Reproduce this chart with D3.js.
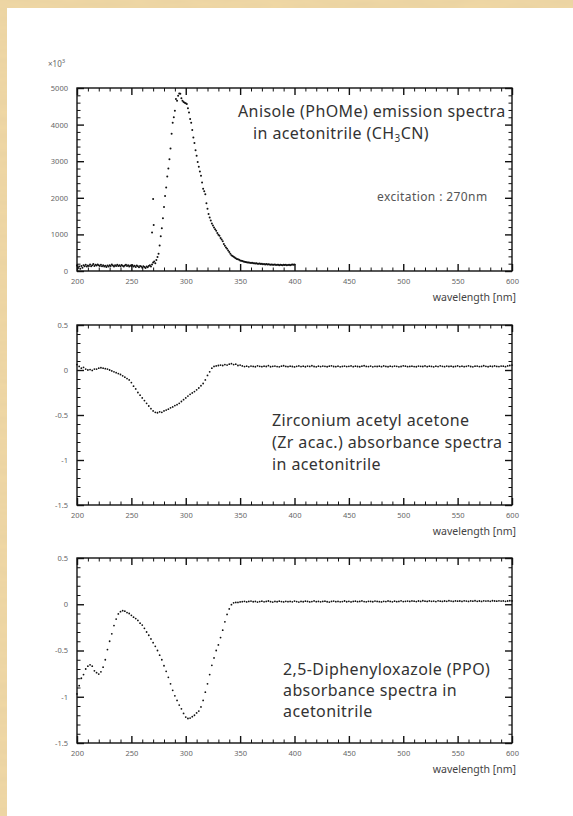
<!DOCTYPE html>
<html lang="en">
<head>
<meta charset="utf-8">
<title>Spectra</title>
<script src="https://d3js.org/d3.v7.min.js"></script>
<style>
  body { margin: 0; background: #fff; }
  svg text { font-family: 'Noto Sans', sans-serif; }
</style>
</head>
<body>
<script>
// anisole emission, 200..400 nm, 1 nm steps (counts / 1000 on axis = x10^3)
const emCount = [
  150, 80, 120, 60, 140, 90, 160, 130, 170, 120,
  150, 140, 180, 130, 160, 190, 140, 170, 150, 180,
  160, 140, 170, 130, 155, 120, 145, 110, 150, 125,
  160, 140, 175, 150, 120, 160, 135, 170, 140, 155,
  130, 165, 145, 120, 150, 170, 140, 160, 125, 150,
  135, 160, 120, 145, 110, 150, 130, 100, 140, 120,
  90, 130, 110, 80, 120, 100, 140, 160, 120, 180,
  230, 260, 210, 300, 380, 470, 700, 950, 1170, 1440,
  1750, 2050, 2280, 2580, 2800, 3050, 3350, 3750, 4050, 4200,
  4380, 4700, 4650, 4790, 4850, 4840, 4720, 4650, 4620, 4600,
  4580, 4560, 4450, 4330, 4150, 4050, 3850, 3650, 3500, 3300,
  3150, 2980, 2850, 2720, 2600, 2420, 2250, 2180, 2100, 1850,
  1700, 1560, 1460, 1380, 1300, 1240, 1190, 1140, 1100, 1040,
  990, 960, 900, 860, 810, 740, 690, 640, 610, 560,
  520, 470, 430, 410, 390, 370, 350, 330, 320, 305,
  290, 280, 270, 260, 255, 245, 240, 235, 230, 228,
  220, 225, 210, 215, 205, 210, 200, 195, 205, 190,
  195, 185, 190, 180, 188, 175, 182, 178, 170, 180,
  172, 168, 175, 165, 172, 168, 160, 170, 165, 158,
  168, 162, 170, 158, 165, 172, 160, 168, 175, 170,
  178
];
// stray points left of the rising edge
const emStrayWave = [269, 270, 270.5];
const emStrayCount = [1050, 1970, 1260];

// Zr acac absorbance, 200..600 nm, 2 nm steps
const zrAbs = [
  0.06, 0.04, 0.02, 0.03, 0.01, 0.00, 0.005, -0.005, 0.01, 0.01,
  0.02, 0.025, 0.02, 0.015, 0.01, 0.00, -0.01, -0.02, -0.03, -0.04,
  -0.05, -0.065, -0.08, -0.095, -0.11, -0.14, -0.18, -0.21, -0.25, -0.28,
  -0.31, -0.34, -0.37, -0.40, -0.43, -0.455, -0.47, -0.475, -0.465, -0.47,
  -0.455, -0.445, -0.435, -0.42, -0.41, -0.395, -0.385, -0.37, -0.35, -0.33,
  -0.31, -0.29, -0.27, -0.255, -0.24, -0.22, -0.20, -0.175, -0.15, -0.11,
  -0.06, -0.02, 0.02, 0.04, 0.045, 0.05, 0.055, 0.05, 0.06, 0.055,
  0.065, 0.07, 0.06, 0.065, 0.05, 0.055,
  0.045, 0.038, 0.042, 0.035, 0.044, 0.040, 0.036, 0.046, 0.041, 0.037,
  0.043, 0.039, 0.048, 0.036, 0.041, 0.044, 0.038, 0.035, 0.042, 0.047,
  0.040, 0.037, 0.043, 0.039, 0.034, 0.041, 0.045, 0.038, 0.042, 0.036,
  0.044, 0.040, 0.047, 0.039, 0.035, 0.042, 0.038, 0.044, 0.041, 0.036,
  0.043, 0.046, 0.039, 0.037, 0.042, 0.035, 0.040, 0.044, 0.038, 0.041,
  0.045, 0.037, 0.043, 0.039, 0.036, 0.042, 0.047, 0.040, 0.038, 0.044,
  0.035, 0.041, 0.039, 0.043, 0.037, 0.045, 0.040, 0.036, 0.042, 0.038,
  0.044, 0.041, 0.035, 0.039, 0.046, 0.042, 0.037, 0.040, 0.043, 0.038,
  0.036, 0.044, 0.041, 0.039, 0.045, 0.037, 0.042, 0.040, 0.035, 0.043,
  0.038, 0.046, 0.041, 0.037, 0.044, 0.039, 0.042, 0.036, 0.040, 0.045,
  0.038, 0.043, 0.037, 0.041, 0.046, 0.039, 0.035, 0.042, 0.044, 0.038,
  0.040, 0.047, 0.041, 0.036, 0.043, 0.039, 0.045, 0.040, 0.038, 0.044,
  0.042, 0.037, 0.045, 0.050, 0.055
];

// PPO absorbance, 200..600 nm, 2 nm steps
const ppoAbs = [
  -0.97, -0.88, -0.80, -0.76, -0.70, -0.67, -0.655, -0.67, -0.72, -0.74,
  -0.755, -0.73, -0.68, -0.60, -0.49, -0.40, -0.32, -0.23, -0.16, -0.105,
  -0.08, -0.07, -0.075, -0.09, -0.10, -0.12, -0.14, -0.155, -0.175, -0.205,
  -0.225, -0.26, -0.30, -0.335, -0.375, -0.415, -0.455, -0.50, -0.55, -0.60,
  -0.665, -0.725, -0.79, -0.86, -0.93, -0.99, -1.04, -1.09, -1.13, -1.18,
  -1.22, -1.235, -1.23, -1.215, -1.20, -1.175, -1.155, -1.11, -1.04, -0.95,
  -0.86, -0.76, -0.66, -0.58, -0.50, -0.44, -0.36, -0.28, -0.19, -0.11,
  -0.05, -0.005, 0.015, 0.02, 0.02, 0.025,
  0.028, 0.032, 0.025, 0.030, 0.034, 0.027, 0.031, 0.024, 0.029, 0.033,
  0.026, 0.030, 0.035, 0.028, 0.023, 0.031, 0.027, 0.033, 0.029, 0.025,
  0.032, 0.028, 0.030, 0.026, 0.034, 0.029, 0.024, 0.031, 0.027, 0.033,
  0.030, 0.025, 0.029, 0.036, 0.028, 0.031, 0.026, 0.030, 0.033, 0.027,
  0.024, 0.030, 0.034, 0.028, 0.031, 0.026, 0.029, 0.035, 0.027, 0.032,
  0.025, 0.030, 0.033, 0.028, 0.031, 0.036, 0.029, 0.026, 0.032, 0.030,
  0.027, 0.034, 0.031, 0.028, 0.025, 0.032, 0.029, 0.035, 0.030, 0.026,
  0.033, 0.028, 0.031, 0.037, 0.029, 0.032, 0.034, 0.030, 0.036, 0.033,
  0.029, 0.035, 0.031, 0.038, 0.033, 0.030, 0.036, 0.032, 0.034, 0.029,
  0.037, 0.033, 0.031, 0.035, 0.032, 0.038, 0.034, 0.030, 0.036, 0.033,
  0.035, 0.031, 0.037, 0.034, 0.030, 0.036, 0.033, 0.038, 0.032, 0.035,
  0.031, 0.037, 0.034, 0.036, 0.032, 0.038, 0.035, 0.033, 0.037, 0.034,
  0.036, 0.032, 0.035, 0.038, 0.036
];

const xMajorTicks = [200, 250, 300, 350, 400, 450, 500, 550, 600];
const emYTicks = [0, 1000, 2000, 3000, 4000, 5000];
const absYTicks = [-1.5, -1, -0.5, 0, 0.5];

const w = 573;
const h = 816;

const svg = d3.select('body')
              .append('svg')
              .attr('width', w)
              .attr('height', h);

// parchment edge
const defs = svg.append('defs');
const paper = defs.append('filter').attr('id', 'paper').attr('x', 0).attr('y', 0).attr('width', 1).attr('height', 1);
paper.append('feTurbulence').attr('type', 'fractalNoise').attr('baseFrequency', '0.02 0.12')
     .attr('numOctaves', 3).attr('seed', 7);
paper.append('feColorMatrix').attr('type', 'matrix')
     .attr('values', '0 0 0 0 0.78  0 0 0 0 0.62  0 0 0 0 0.36  0.7 0 0 0 -0.15');
svg.append('rect').attr('width', w).attr('height', h).attr('fill', '#efd7a4');
svg.append('rect').attr('width', w).attr('height', h).attr('filter', 'url(#paper)');
svg.append('rect').attr('x', 7).attr('y', 8).attr('width', w - 7).attr('height', h - 8).attr('fill', '#fff');

const left = 77, right = 512;
const x = d3.scaleLinear().domain([200, 600]).range([left, right]);
const xMinorTicks = d3.range(200, 601, 10).filter(v => v % 50 !== 0);

const fmtAbs = d => (d < 0 ? '-' : '') + Math.abs(d);

function drawPanel(p) {
    const y = d3.scaleLinear().domain(p.yDomain).range([p.bottom, p.top]);
    const g = svg.append('g');

    const styleAxis = sel => {
        sel.select('.domain').remove();
        sel.attr('font-family', null).attr('font-size', null);
        sel.selectAll('line').attr('stroke', '#111');
        sel.selectAll('text').attr('font-size', 7.5).attr('fill', '#666');
    };

    // major + minor ticks on all four sides, pointing in
    g.append('g').attr('transform', `translate(0,${p.bottom})`)
     .call(d3.axisBottom(x).tickValues(xMajorTicks).tickSize(-7).tickPadding(8).tickFormat(d3.format('d')))
     .call(styleAxis).selectAll('line').attr('stroke-width', 1.4);
    g.append('g').attr('transform', `translate(0,${p.bottom})`)
     .call(d3.axisBottom(x).tickValues(xMinorTicks).tickSize(-3.5).tickFormat(''))
     .call(styleAxis);
    g.append('g').attr('transform', `translate(0,${p.top})`)
     .call(d3.axisTop(x).tickValues(xMajorTicks).tickSize(-7).tickFormat(''))
     .call(styleAxis).selectAll('line').attr('stroke-width', 1.4);
    g.append('g').attr('transform', `translate(0,${p.top})`)
     .call(d3.axisTop(x).tickValues(xMinorTicks).tickSize(-3.5).tickFormat(''))
     .call(styleAxis);

    g.append('g').attr('transform', `translate(${left},0)`)
     .call(d3.axisLeft(y).tickValues(p.yTicks).tickSize(-7).tickPadding(9).tickFormat(p.fmt))
     .call(styleAxis).selectAll('line').attr('stroke-width', 1.4);
    g.append('g').attr('transform', `translate(${left},0)`)
     .call(d3.axisLeft(y).tickValues(p.yMinor).tickSize(-3.5).tickFormat(''))
     .call(styleAxis);
    g.append('g').attr('transform', `translate(${right},0)`)
     .call(d3.axisRight(y).tickValues(p.yTicks).tickSize(-7).tickFormat(''))
     .call(styleAxis).selectAll('line').attr('stroke-width', 1.4);
    g.append('g').attr('transform', `translate(${right},0)`)
     .call(d3.axisRight(y).tickValues(p.yMinor).tickSize(-3.5).tickFormat(''))
     .call(styleAxis);

    g.append('rect')
     .attr('x', left).attr('y', p.top)
     .attr('width', right - left).attr('height', p.bottom - p.top)
     .attr('fill', 'none').attr('stroke', '#111').attr('stroke-width', 1.4);

    g.selectAll('circle.pt')
     .data(p.points)
     .join('circle')
     .attr('class', 'pt')
     .attr('cx', d => x(d[0]))
     .attr('cy', d => y(d[1]))
     .attr('r', p.r)
     .attr('fill', '#111');

    g.append('text')
     .text('wavelength [nm]')
     .attr('x', 516)
     .attr('y', p.bottom + 30)
     .attr('text-anchor', 'end')
     .attr('font-size', 10.5)
     .attr('fill', '#444');

    return g;
}

function addTitle(x0, lines, size) {
    const t = svg.append('text')
                 .attr('font-size', size)
                 .attr('letter-spacing', 0.4)
                 .attr('fill', '#333');
    lines.forEach(([txt, y0]) => t.append('tspan').attr('x', x0).attr('y', y0).text(txt));
    return t;
}

// panel 1: emission
const emPoints = emCount.map((c, i) => [200 + i, c])
    .concat(emStrayWave.map((wv, i) => [wv, emStrayCount[i]]));
drawPanel({
    top: 88, bottom: 271,
    yDomain: [0, 5000],
    yTicks: emYTicks,
    yMinor: d3.range(0, 5001, 200).filter(v => v % 1000 !== 0),
    fmt: d3.format('d'),
    points: emPoints,
    r: 1
});

svg.append('text')
   .attr('x', 48).attr('y', 67)
   .attr('font-size', 8).attr('fill', '#666')
   .text('×10')
   .append('tspan').attr('dy', -4).attr('font-size', 6).text('3');

addTitle(238, [['Anisole (PhOMe) emission spectra', 117]], 16);
const t1 = svg.append('text').attr('font-size', 16).attr('letter-spacing', 0.4).attr('fill', '#333');
t1.append('tspan').attr('x', 253).attr('y', 139).text('in acetonitrile (CH');
t1.append('tspan').attr('dy', 3).attr('font-size', 10).text('3');
t1.append('tspan').attr('dy', -3).text('CN)');

svg.append('text')
   .attr('x', 377).attr('y', 201)
   .attr('font-size', 12).attr('letter-spacing', 0.4).attr('fill', '#555')
   .text('excitation : 270nm');

// panel 2: Zr acac
const absMinor = d3.range(-15, 6).filter(v => v % 5 !== 0).map(v => v / 10);
drawPanel({
    top: 325, bottom: 505,
    yDomain: [-1.5, 0.5],
    yTicks: absYTicks,
    yMinor: absMinor,
    fmt: fmtAbs,
    points: zrAbs.map((a, i) => [200 + 2 * i, a]),
    r: 0.9
});

addTitle(272, [
    ['Zirconium acetyl acetone', 426],
    ['(Zr acac.) absorbance spectra', 448],
    ['in acetonitrile', 470]
], 16);

// panel 3: PPO
drawPanel({
    top: 558, bottom: 743,
    yDomain: [-1.5, 0.5],
    yTicks: absYTicks,
    yMinor: absMinor,
    fmt: fmtAbs,
    points: ppoAbs.map((a, i) => [200 + 2 * i, a]),
    r: 0.9
});

addTitle(283, [
    ['2,5-Diphenyloxazole (PPO)', 675],
    ['absorbance spectra in', 696],
    ['acetonitrile', 717]
], 16);
</script>
</body>
</html>
